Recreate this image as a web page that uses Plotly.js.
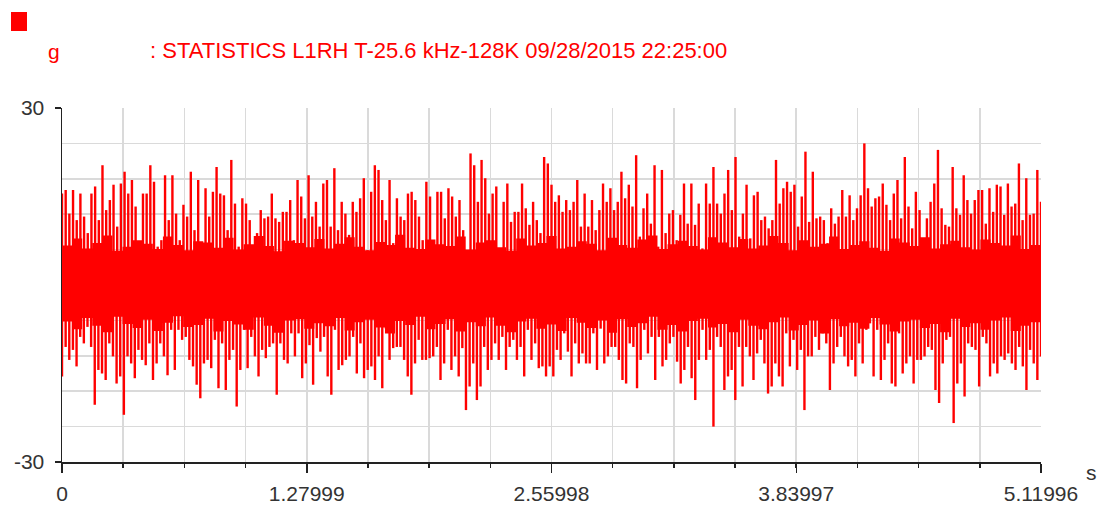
<!DOCTYPE html>
<html>
<head>
<meta charset="utf-8">
<script src="https://cdn.plot.ly/plotly-3.0.1.min.js"></script>
<style>
html,body{margin:0;padding:0;background:#fff;}
#chart{width:1099px;height:506px;}
</style>
</head>
<body>
<div id="chart"></div>
<script>
// ---- data (values in g) ----
const duration = 5.11996; // s
const tickVals = [0, 1.27999, 2.55998, 3.83997, 5.11996];
const tickText = ["0", "1.27999", "2.55998", "3.83997", "5.11996"];
const yTickVals = [-30, 30];
const yTickText = ["-30", "30"];

// positive spike peaks, left to right
const peakHi = [
15.5,16.1,12.1,16.1,11.0,15.5,11.6,8.8,15.5,16.7,11.0,20.3,12.7,14.4,17.0,9.9,17.2,19.2,15.5,17.8,13.3,4.8,15.5,15.5,20.3,17.5,6.5,7.6,18.6,11.0,18.6,12.1,7.6,13.6,11.6,19.2,9.3,17.8,6.5,16.4,11.6,15.8,20.0,15.5,15.2,9.3,21.2,13.8,6.5,14.7,13.8,11.0,6.5,8.8,12.7,
11.3,11.6,15.5,11.3,10.7,12.4,12.4,14.4,7.6,17.8,15.0,11.3,18.6,11.6,14.1,9.9,17.2,17.8,9.9,19.8,9.3,14.1,12.1,8.5,14.1,12.4,14.7,18.1,5.9,15.8,20.3,19.5,14.4,11.0,17.8,7.1,14.7,11.6,11.0,15.5,15.8,14.4,11.6,7.6,17.5,15.0,7.1,15.8,15.8,11.3,16.4,15.0,11.6,14.4,9.3,5.9,22.3,20.3,14.1,21.2,18.1,12.1,15.5,16.7,6.2,14.1,
17.2,10.7,12.4,12.4,17.2,13.0,10.2,14.1,11.0,8.8,21.7,20.6,17.0,14.1,15.2,12.4,14.4,12.7,14.1,17.8,9.9,15.5,9.9,14.4,9.3,12.7,17.2,14.1,16.4,12.7,14.1,19.2,14.7,17.0,13.3,22.0,8.2,13.0,15.5,10.4,20.3,6.5,19.5,8.8,12.1,12.7,7.6,11.9,17.2,10.4,17.2,10.2,13.8,6.2,
17.2,13.8,20.0,13.8,12.1,15.5,19.5,12.7,21.7,8.2,12.1,17.0,7.9,15.2,15.8,11.0,11.6,9.6,11.0,21.2,13.8,16.4,17.5,15.8,17.0,9.9,15.0,22.6,10.7,19.2,11.3,11.6,11.0,7.1,13.0,10.4,11.6,16.1,11.6,15.2,11.0,13.0,15.2,24.0,16.4,13.3,14.7,
15.0,17.2,13.6,11.0,15.5,17.8,11.3,21.7,13.3,9.6,15.8,12.7,6.5,11.3,14.1,17.2,22.9,13.0,10.2,9.9,20.0,13.0,11.9,18.6,14.4,12.1,14.4,16.1,16.1,10.4,16.4,12.4,17.0,16.7,11.9,17.2,13.3,13.8,20.6,11.0,18.1,11.9,12.1,19.5,14.1
];

// negative spike peaks, left to right
const peakLo = [
-15.5,-10.5,-12.7,-11.0,-13.8,-8.8,-9.9,-7.1,-10.5,-20.3,-14.4,-15.0,-16.1,-9.9,-12.1,-16.7,-15.5,-22.0,-12.1,-13.3,-15.8,-11.0,-12.7,-13.6,-9.9,-16.1,-13.3,-9.9,-12.1,-15.3,-7.6,-14.4,-7.6,-9.3,-8.8,-12.7,-13.8,-16.9,-19.2,-13.3,-12.7,-14.1,-9.3,-17.5,-9.9,-17.8,-12.7,-11.0,-20.6,-14.4,-7.6,-14.1,-8.8,-12.1,-15.5,-11.0,
-12.4,-10.5,-9.9,-18.6,-9.9,-12.7,-13.3,-8.2,-12.1,-8.2,-15.8,-13.3,-10.2,-16.9,-9.0,-11.3,-8.8,-15.5,-18.6,-7.6,-14.4,-13.6,-12.7,-12.1,-8.8,-15.0,-9.9,-15.8,-14.4,-13.8,-16.1,-12.1,-17.5,-7.4,-12.7,-10.7,-10.5,-10.5,-12.7,-15.5,-18.6,-13.3,-9.3,-12.7,-12.7,-12.4,-12.1,-10.5,-16.1,-13.3,-7.6,-14.4,-12.1,-15.5,-10.7,-21.2,-17.2,-13.3,-19.5,-17.2,-10.5,-14.4,-12.7,-9.9,-12.7,-8.8,
-14.4,-10.5,-9.3,-12.7,-10.5,-15.5,-7.6,-12.7,-9.9,-14.1,-13.8,-15.5,-13.8,-15.5,-11.0,-12.7,-8.2,-11.3,-15.5,-9.9,-13.3,-11.6,-13.3,-13.3,-8.2,-14.4,-7.4,-13.3,-12.1,-10.5,-10.5,-12.7,-16.1,-16.7,-9.9,-10.5,-17.5,-12.7,-7.6,-11.6,-8.8,-16.1,-8.8,-13.8,-12.7,-9.9,-8.8,-13.0,-16.7,-14.4,-10.5,-15.8,-19.5,-12.7,-7.6,
-12.7,-11.0,-24.0,-8.8,-10.5,-17.8,-15.5,-14.4,-19.5,-10.5,-17.2,-10.5,-12.1,-16.1,-11.6,-9.3,-13.3,-18.4,-17.2,-13.3,-15.5,-17.2,-8.2,-13.8,-9.3,-14.4,-11.0,-21.2,-12.1,-12.1,-8.8,-11.0,-8.2,-9.9,-17.8,-13.3,-10.5,-8.8,-12.1,-13.8,-12.7,-15.5,-9.9,-13.3,-7.6,-6.5,
-15.5,-7.6,-16.1,-12.7,-9.9,-16.7,-17.2,-8.2,-15.0,-13.3,-12.1,-16.7,-12.7,-12.7,-12.1,-10.5,-11.0,-17.8,-20.0,-13.3,-9.3,-8.8,-23.4,-16.7,-13.3,-18.9,-9.9,-10.5,-11.0,-17.2,-8.8,-9.9,-15.5,-13.3,-15.0,-12.1,-12.7,-11.6,-13.3,-14.4,-10.5,-13.8,-17.8,-11.0,-13.3,-16.1,-12.1
];

// edges of the dense (solid) band, left to right
const coreHi = [
6.7,7.9,6.2,7.1,8.4,5.8,6.5,7.6,7.0,6.1, 8.2,6.8,5.9,7.4,7.2,6.3,8.0,6.0,6.9,8.3,
6.6,5.7,7.5,7.1,6.4,7.8,6.2,7.0,8.1,6.5, 5.9,7.3,6.8,8.5,6.3,6.1,7.7,6.9,6.6,8.2,
6.0,7.2,7.6,6.4,5.8,7.9,6.7,7.1,8.3,6.2, 6.5,7.4,7.0,5.9,8.0,6.8,6.3,7.7,8.4,6.1,
6.9,7.5,6.6,6.0,8.1,7.2,6.4,7.8,6.2,6.7, 8.3,7.1,5.9,7.6,6.5,7.0,8.2,6.1,6.8,7.4,
6.3,5.8,7.9,7.2,6.6,8.1,6.2,6.9,7.5,6.4, 6.0,7.7,7.1,6.7,8.4,6.1,6.8,7.3
];
const coreLo = [
-6.2,-7.5,-5.6,-6.9,-8.0,-5.4,-6.6,-7.3,-5.9,-7.8, -6.4,-5.3,-7.1,-6.8,-5.7,-7.9,-6.1,-6.7,-7.6,-5.5,
-6.9,-8.1,-6.0,-5.8,-7.4,-6.5,-7.0,-5.6,-7.7,-6.3, -5.9,-7.2,-8.2,-6.1,-6.8,-5.4,-7.5,-6.6,-5.8,-7.9,
-6.3,-7.0,-5.5,-6.9,-8.0,-6.2,-5.7,-7.4,-6.7,-7.8, -5.6,-6.4,-7.3,-6.0,-8.1,-5.8,-7.1,-6.5,-5.4,-7.6,
-6.8,-7.9,-6.1,-5.7,-7.2,-6.6,-8.0,-5.9,-6.9,-7.5, -6.3,-5.5,-7.7,-6.8,-6.0,-8.2,-5.8,-7.0,-6.4,-7.4,
-5.6,-6.7,-7.9,-6.2,-5.9,-7.3,-6.6,-8.0,-5.7,-7.1, -6.5,-7.6,-6.0,-5.5,-7.8,-6.9,-6.3,-7.2
];

// ---- build traces ----
function times(n){ const t=[]; for(let i=0;i<n;i++) t.push(duration*i/(n-1)); return t; }
const tHi = times(peakHi.length), tLo = times(peakLo.length), tCore = times(coreHi.length);
const sx=[], sy=[];
peakHi.forEach((v,i)=>{ sx.push(tHi[i],tHi[i],null); sy.push(0,v,null); });
peakLo.forEach((v,i)=>{ sx.push(tLo[i],tLo[i],null); sy.push(0,v,null); });

const RED = '#ff0000';
const traces = [
  {x:tCore, y:coreHi, mode:'lines', line:{width:0,color:RED,shape:'hv'}, hoverinfo:'skip'},
  {x:tCore, y:coreLo, mode:'lines', line:{width:0,color:RED,shape:'hv'}, fill:'tonexty', fillcolor:RED, hoverinfo:'skip'},
  {x:sx, y:sy, mode:'lines', line:{width:2.4,color:RED}, connectgaps:false, hoverinfo:'skip'}
];

const FONT = 'Liberation Sans, Arial, sans-serif';
const W=1099, H=506, L=62, R=58, T=108, B=44;
const pw=W-L-R, ph=H-T-B;
const px = v => (v-L)/pw, py = v => (H-B-v)/ph;

const layout = {
  width:W, height:H,
  margin:{l:L, r:R, t:T, b:B, pad:0},
  paper_bgcolor:'#fff', plot_bgcolor:'#fff',
  showlegend:false,
  xaxis:{
    range:[0,duration], tickmode:'array', tickvals:tickVals, ticktext:tickText,
    ticks:'outside', ticklen:9, tickwidth:1.5, tickcolor:'#222',
    showline:true, linecolor:'#222', linewidth:1.5,
    showgrid:true, gridcolor:'#dadada', gridwidth:1.5, zeroline:false,
    tickfont:{family:FONT, size:21, color:'#333'}, ticklabelstandoff:3,
    minor:{dtick:0.31999, tick0:0, ticks:'outside', ticklen:4, tickwidth:1.5, tickcolor:'#222', showgrid:true, gridcolor:'#dadada', gridwidth:1.5}
  },
  yaxis:{
    range:[-30,30], tickmode:'array', tickvals:yTickVals, ticktext:yTickText,
    ticks:'outside', ticklen:6, tickwidth:1.5, tickcolor:'#222',
    showline:true, linecolor:'#222', linewidth:1.5,
    showgrid:true, gridcolor:'#dadada', gridwidth:1.5, zeroline:false,
    tickfont:{family:FONT, size:21, color:'#333'}, ticklabelstandoff:6,
    minor:{dtick:6, tick0:0, ticks:'', showgrid:true, gridcolor:'#dadada', gridwidth:1.5}
  },
  shapes:[
    {type:'rect', xref:'paper', yref:'paper', x0:px(11), x1:px(27), y0:py(31), y1:py(12), fillcolor:RED, line:{width:0}}
  ],
  annotations:[
    {xref:'paper', yref:'paper', x:px(54), y:py(52), xanchor:'center', yanchor:'middle', showarrow:false,
     text:'g', font:{family:FONT, size:21, color:RED}},
    {xref:'paper', yref:'paper', x:px(148), y:py(51), xanchor:'left', yanchor:'middle', showarrow:false,
     text:': STATISTICS L1RH T-25.6 kHz-128K 09/28/2015 22:25:00', font:{family:FONT, size:22, color:RED}},
    {xref:'paper', yref:'paper', x:px(1091), y:py(472), xanchor:'center', yanchor:'middle', showarrow:false,
     text:'s', font:{family:FONT, size:21, color:'#333'}}
  ]
};

Plotly.newPlot('chart', traces, layout, {staticPlot:true, displayModeBar:false});
</script>
</body>
</html>
